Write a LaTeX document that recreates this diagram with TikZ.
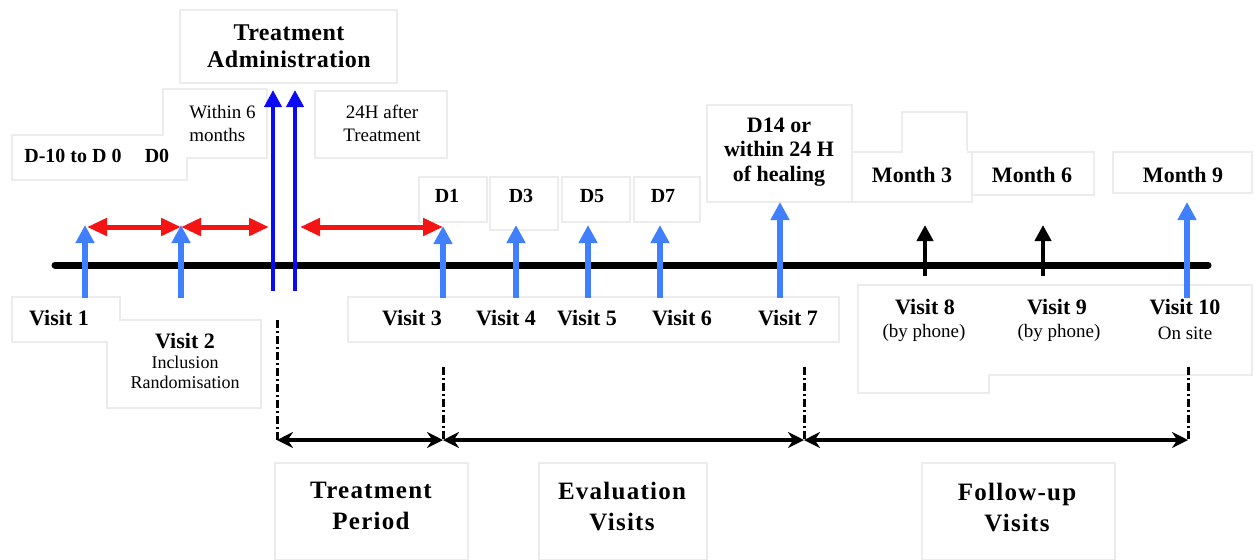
\documentclass[tikz,border=0pt]{standalone}
\usepackage{fontspec}
\setmainfont{Liberation Serif}
\usetikzlibrary{arrows.meta}
\definecolor{lblue}{RGB}{64,128,255}
\definecolor{dblue}{RGB}{10,10,245}
\definecolor{ared}{RGB}{245,20,20}
\definecolor{frm}{RGB}{236,236,236}
\begin{document}
\begin{tikzpicture}[x=0.5pt,y=-0.5pt,
  frame/.style={draw=frm,line width=0.6pt,fill=white},
  vis/.style={font=\fontsize{11}{13}\selectfont\bfseries,inner sep=0pt},
  dlab/.style={font=\fontsize{10}{12}\selectfont\bfseries,inner sep=0pt},
  small/.style={font=\fontsize{9.5}{11.5}\selectfont,inner sep=0pt,align=center},
  title/.style={font=\fontsize{12.5}{15.5}\selectfont\bfseries\addfontfeatures{LetterSpace=5},inner sep=0pt,align=center},
  admintitle/.style={font=\fontsize{12}{13.5}\selectfont\bfseries\addfontfeatures{LetterSpace=2},inner sep=0pt,align=center},
  mono/.style={font=\fontsize{11}{12.3}\selectfont\bfseries,inner sep=0pt,align=center},
  barrow/.style={lblue,line width=3pt,-{Triangle[width=9pt,length=9pt]}},
  darrow/.style={dblue,line width=2pt,-{Triangle[width=8.5pt,length=8.5pt]}},
  karrow/.style={black,line width=2pt,-{Triangle[width=8pt,length=8pt]}},
  rarrow/.style={ared,line width=2.5pt,{Triangle[width=8.5pt,length=10pt]}-{Triangle[width=8.5pt,length=10pt]}},
  perarrow/.style={black,line width=2pt,{Stealth[width=8pt,length=8pt]}-{Stealth[width=8pt,length=8pt]}},
  dashdot/.style={black,line width=1.5pt,dash pattern=on 4pt off 1.5pt on 1pt off 1.5pt},
  timeline/.style={black,line width=3.5pt,line cap=round}]
\useasboundingbox (0,0) rectangle (1256,559);

% faint frames
\draw[frame] (180,10) rectangle (397,83);
\draw[frame] (12,135) -- (163,135) -- (163,89) -- (267,89) -- (267,158) -- (187,158) -- (187,180) -- (12,180) -- cycle;
\draw[frame] (315,91) rectangle (447,158);
\draw[frame] (419,177) rectangle (487,222);
\draw[frame] (490,177) rectangle (558,230);
\draw[frame] (562,177) rectangle (630,222);
\draw[frame] (634,177) rectangle (700,222);
\draw[frame] (707,105) rectangle (852,202);
\draw[frame] (902,112) rectangle (967,160);
\draw[frame] (967,152) rectangle (1094,195);
\draw[frame] (852,152) rectangle (972,202);
\draw[draw=white,fill=white] (903,150) rectangle (966,155);
\draw[frame] (1113,152) rectangle (1252,193);
\draw[frame] (12,297) -- (120,297) -- (120,320) -- (261,320) -- (261,408) -- (107,408) -- (107,342) -- (12,342) -- cycle;
\draw[frame] (348,297) rectangle (839,342);
\draw[frame] (858,285) -- (1252,285) -- (1252,375) -- (989,375) -- (989,393) -- (858,393) -- cycle;
\draw[frame] (275,463) rectangle (468,560);
\draw[frame] (539,463) rectangle (707,560);
\draw[frame] (922,463) rectangle (1115,560);

% timeline
\coordinate (tlL) at (55,265);
\coordinate (tlR) at (1208,265);
\draw[timeline] (tlL) -- (tlR);

% text
\node[admintitle] (admin) at (289,46) {Treatment\\Administration};
\node[small,align=left,anchor=west] (within) at (189,123) {Within 6\\months};
\node[small] (after) at (382,123) {24H after\\Treatment};
\node[dlab] (dm10) at (73,156) {D-10 to D 0};
\node[dlab] (d0) at (157,156) {D0};
\node[dlab] (d1) at (447,196) {D1};
\node[dlab] (d3) at (521,196) {D3};
\node[dlab] (d5) at (592,196) {D5};
\node[dlab] (d7) at (663,196) {D7};
\node[mono] (d14) at (779,152) {D14 or\\within 24 H\\of healing};
\node[vis] (m3) at (912,175) {Month 3};
\node[vis] (m6) at (1032,175) {Month 6};
\node[vis] (m9) at (1183,175) {Month 9};

\node[vis] (v1) at (59,318) {Visit 1};
\node[vis] (v2) at (185,341) {Visit 2};
\node[small,font=\fontsize{9}{10}\selectfont] (v2b) at (185,372) {Inclusion\\Randomisation};
\node[vis] (v3) at (412,318) {Visit 3};
\node[vis] (v4) at (506,318) {Visit 4};
\node[vis] (v5) at (587,318) {Visit 5};
\node[vis] (v6) at (682,318) {Visit 6};
\node[vis] (v7) at (788,318) {Visit 7};
\node[vis] (v8) at (925,307) {Visit 8};
\node[small] (v8b) at (924,333) {(by phone)};
\node[vis] (v9) at (1057,307) {Visit 9};
\node[small] (v9b) at (1059,333) {(by phone)};
\node[vis] (v10) at (1185,307) {Visit 10};
\node[small] (v10b) at (1185,333) {On site};

\node[title] (tp) at (371,506) {Treatment\\Period};
\node[title] (ev) at (622,506) {Evaluation\\Visits};
\node[title] (fu) at (1017,507) {Follow-up\\Visits};

% blue visit arrows
\foreach \n/\x/\t in {a1/85/225, a2/181/225, a3/443/226, a4/516/225, a5/588/225, a6/660/225, a7/780/202, a10/1187/202} {
  \coordinate (\n b) at (\x,298);
  \coordinate (\n t) at (\x,\t);
  \draw[barrow] (\n b) -- (\n t);
}
% treatment administration arrows
\coordinate (ta1b) at (273,291); \coordinate (ta1t) at (273,90);
\coordinate (ta2b) at (295,291); \coordinate (ta2t) at (295,90);
\draw[darrow] (ta1b) -- (ta1t);
\draw[darrow] (ta2b) -- (ta2t);
% phone visit arrows
\coordinate (k8b) at (925,276); \coordinate (k8t) at (925,225);
\coordinate (k9b) at (1043,276); \coordinate (k9t) at (1043,225);
\draw[karrow] (k8b) -- (k8t);
\draw[karrow] (k9b) -- (k9t);
% red intervals
\coordinate (r1) at (87,227); \coordinate (r2) at (181,227);
\coordinate (r3) at (269,227); \coordinate (r4) at (300,227);
\coordinate (r5) at (443,227);
\draw[rarrow] (r1) -- (r2);
\draw[rarrow] (r2) -- (r3);
\draw[rarrow] (r4) -- (r5);
% dash-dot markers
\coordinate (p1t) at (277,320); \coordinate (p1) at (277,440);
\coordinate (p2t) at (443,367); \coordinate (p2) at (443,440);
\coordinate (p3t) at (804,367); \coordinate (p3) at (804,440);
\coordinate (p4t) at (1188,367); \coordinate (p4) at (1188,440);
\draw[dashdot] (p1t) -- (p1);
\draw[dashdot] (p2t) -- (p2);
\draw[dashdot] (p3t) -- (p3);
\draw[dashdot] (p4t) -- (p4);
% period arrows
\draw[perarrow] (p1) -- (p2);
\draw[perarrow] (p2) -- (p3);
\draw[perarrow] (p3) -- (p4);
\end{tikzpicture}
\end{document}
